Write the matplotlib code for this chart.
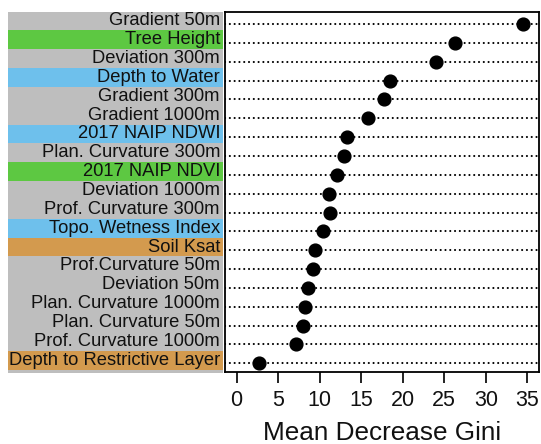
import matplotlib
matplotlib.use("Agg")
import matplotlib.pyplot as plt
from matplotlib.patches import Rectangle
from matplotlib.transforms import blended_transform_factory

plt.rcParams['font.family'] = ['Liberation Sans', 'DejaVu Sans']

# top to bottom
categories = ["Gradient 50m", "Tree Height", "Deviation 300m", "Depth to Water",
              "Gradient 300m", "Gradient 1000m", "2017 NAIP NDWI",
              "Plan. Curvature 300m", "2017 NAIP NDVI", "Deviation 1000m",
              "Prof. Curvature 300m", "Topo. Wetness Index", "Soil Ksat",
              "Prof.Curvature 50m", "Deviation 50m", "Plan. Curvature 1000m",
              "Plan. Curvature 50m", "Prof. Curvature 1000m",
              "Depth to Restrictive Layer"]
values = [34.5, 26.3, 24.0, 18.5, 17.8, 15.8, 13.3, 12.95, 12.1, 11.15,
          11.25, 10.4, 9.4, 9.15, 8.6, 8.2, 8.0, 7.15, 2.75]
groups = ["topo", "veg", "topo", "water", "topo", "topo", "water", "topo",
          "veg", "topo", "topo", "water", "soil", "topo", "topo", "topo",
          "topo", "topo", "soil"]
group_colors = {"topo": "#BEBEBE", "veg": "#5DC842", "water": "#6EC0EC",
                "soil": "#D39A4E"}
xticks = [0, 5, 10, 15, 20, 25, 30, 35]

W, H = 541, 444
fig = plt.figure(figsize=(W / 100, H / 100), dpi=100)
ax = fig.add_axes([225 / W, 1 - 372 / H, (539 - 225) / W, (372 - 12) / H])

n = len(categories)
ypos = [n - i for i in range(n)]

xmin, xmax = -1.4, 36.4
ymin, ymax = 0.54, 19.64
ax.set_xlim(xmin, xmax)
ax.set_ylim(ymin, ymax)

for y, v in zip(ypos, values):
    ax.plot([xmin, xmax], [y, y], color="black", linestyle=(0, (0.05, 2.25)),
            lw=1.5, dash_capstyle="round", zorder=1)
ax.plot(values, ypos, "o", color="black", markersize=9.2, zorder=3)

# label backgrounds
bt = blended_transform_factory(fig.transFigure, ax.transData)
bx0, bx1 = 8 / W, 223 / W
ax.add_patch(Rectangle((bx0, 1 - 373 / H), bx1 - bx0, (373 - 12) / H,
                       transform=fig.transFigure,
                       facecolor=group_colors["topo"], edgecolor="none",
                       clip_on=False, zorder=-2))
off = 0.17
for y, g in zip(ypos, groups):
    if g != "topo":
        y0 = max(y + off - 0.5, ymin - 0.05)
        y1 = min(y + off + 0.5, ymax)
        ax.add_patch(Rectangle((bx0, y0), bx1 - bx0, y1 - y0, transform=bt,
                               facecolor=group_colors[g], edgecolor="none",
                               clip_on=False, zorder=-1))

for y, lab in zip(ypos, categories):
    ax.text(220 / W, y + off, lab, transform=bt, ha="right", va="center",
            fontsize=13.2, color="#111111", clip_on=False, zorder=4)

ax.set_yticks([])
ax.set_xticks(xticks)
ax.set_xticklabels([str(t) for t in xticks])
ax.tick_params(axis="x", direction="out", length=8, width=1.3, pad=5,
               labelsize=15.5, colors="#111111")
for s in ax.spines.values():
    s.set_linewidth(1.3)
ax.set_xlabel("Mean Decrease Gini", fontsize=18.8, labelpad=7, color="#111111")

fig.savefig("out.png", dpi=100)
